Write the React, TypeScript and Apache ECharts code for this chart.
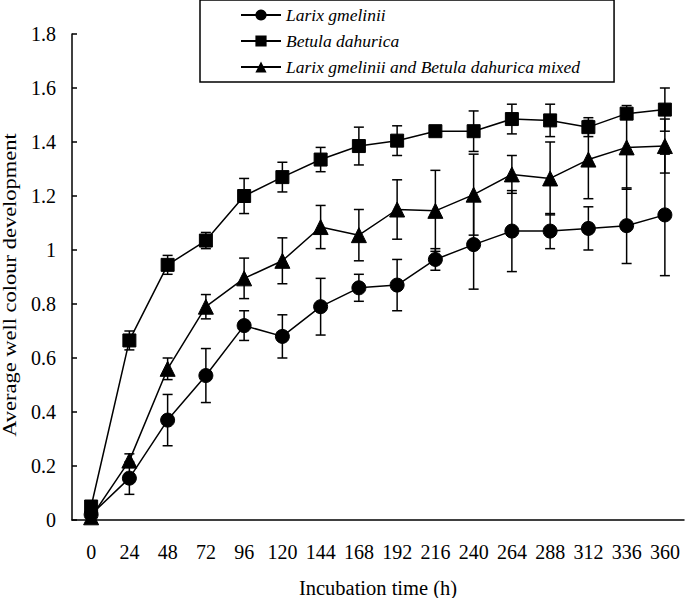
import React, { useEffect, useRef } from "react";
import * as echarts from "echarts";

const hours = ["0", "24", "48", "72", "96", "120", "144", "168", "192", "216", "240", "264", "288", "312", "336", "360"];
const larix = [0.02, 0.155, 0.37, 0.535, 0.72, 0.68, 0.79, 0.86, 0.87, 0.965, 1.02, 1.07, 1.07, 1.08, 1.09, 1.13];
const larixErr = [0.01, 0.06, 0.095, 0.1, 0.055, 0.08, 0.105, 0.05, 0.095, 0.04, 0.165, 0.15, 0.065, 0.08, 0.14, 0.225];
const betula = [0.05, 0.665, 0.945, 1.035, 1.2, 1.27, 1.335, 1.385, 1.405, 1.44, 1.44, 1.485, 1.48, 1.455, 1.505, 1.52];
const betulaErr = [0.01, 0.035, 0.035, 0.03, 0.065, 0.055, 0.045, 0.07, 0.055, 0.015, 0.075, 0.055, 0.06, 0.035, 0.015, 0.08];
const mixed = [0.01, 0.22, 0.56, 0.79, 0.895, 0.96, 1.085, 1.055, 1.15, 1.145, 1.205, 1.28, 1.265, 1.335, 1.38, 1.385];
const mixedErr = [0.005, 0.025, 0.04, 0.045, 0.075, 0.085, 0.08, 0.095, 0.11, 0.15, 0.15, 0.07, 0.135, 0.145, 0.155, 0.1];

const seriesNames = ["Larix gmelinii", "Betula dahurica", "Larix gmelinii and Betula dahurica mixed"];
const yTitle = "Average well colour development";
const xTitle = "Incubation time (h)";

const FONT = "Liberation Serif";

function errData(mean: number[], err: number[]) {
  return mean.map((m, i) => [i, m - err[i], m + err[i]]);
}

function errorSeries(mean: number[], err: number[]) {
  return {
    type: "custom",
    silent: true,
    z: 1,
    encode: { x: 0, y: [1, 2] },
    data: errData(mean, err),
    renderItem: (params: any, api: any) => {
      const idx = api.value(0);
      const lo = api.coord([idx, api.value(1)]);
      const hi = api.coord([idx, api.value(2)]);
      const w = 5;
      const style = { stroke: "#000", lineWidth: 1.5 };
      return {
        type: "group",
        children: [
          { type: "line", shape: { x1: lo[0], y1: lo[1], x2: hi[0], y2: hi[1] }, style },
          { type: "line", shape: { x1: lo[0] - w, y1: lo[1], x2: lo[0] + w, y2: lo[1] }, style },
          { type: "line", shape: { x1: hi[0] - w, y1: hi[1], x2: hi[0] + w, y2: hi[1] }, style },
        ],
      };
    },
  };
}

function lineSeries(name: string, data: number[], symbol: string, size: number) {
  return {
    type: "line",
    name,
    data,
    symbol,
    symbolSize: size,
    showAllSymbol: true,
    z: 3,
    lineStyle: { color: "#000", width: 1.5 },
    itemStyle: { color: "#000", borderColor: "#000" },
  };
}

export default function App() {
  const ref = useRef<HTMLDivElement>(null);
  useEffect(() => {
    if (!ref.current) return;
    const chart = echarts.init(ref.current, null, { renderer: "svg" });
    chart.setOption({
      animation: false,
      backgroundColor: "#fff",
      graphic: [
        {
          type: "text",
          x: 10,
          y: 285,
          rotation: Math.PI / 2,
          scaleX: 1.25,
          style: {
            text: yTitle,
            fontFamily: FONT,
            fontSize: 18,
            fill: "#000",
            align: "center",
            verticalAlign: "middle",
          },
        },
      ],
      legend: {
        data: seriesNames,
        orient: "vertical",
        left: 200,
        top: 0,
        padding: [6, 34, 6, 40],
        itemWidth: 40,
        itemHeight: 14,
        itemGap: 8,
        borderColor: "#000",
        borderWidth: 1.5,
        textStyle: { fontFamily: FONT, fontStyle: "italic", fontSize: 17.5, color: "#000" },
        selectedMode: false,
      },
      grid: { left: 72, right: 1, top: 34, bottom: 78, outerBoundsMode: "none", containLabel: false },
      xAxis: {
        type: "category",
        data: hours,
        boundaryGap: true,
        name: xTitle,
        nameLocation: "middle",
        nameGap: 57,
        nameTextStyle: { fontFamily: FONT, fontSize: 20.5, color: "#000" },
        axisLine: { lineStyle: { color: "#000", width: 1.5 } },
        axisTick: { inside: true, length: 5, lineStyle: { color: "#000", width: 1.5 } },
        axisLabel: { fontFamily: FONT, fontSize: 20, color: "#000", margin: 22, interval: 0 },
        splitLine: { show: false },
      },
      yAxis: {
        type: "value",
        min: 0,
        max: 1.8,
        interval: 0.2,
        axisLine: { show: true, lineStyle: { color: "#000", width: 1.5 } },
        axisTick: { show: true, inside: true, length: 5, lineStyle: { color: "#000", width: 1.5 } },
        axisLabel: { fontFamily: FONT, fontSize: 20, color: "#000", margin: 16 },
        splitLine: { show: false },
      },
      series: [
        errorSeries(larix, larixErr),
        errorSeries(betula, betulaErr),
        errorSeries(mixed, mixedErr),
        lineSeries(seriesNames[0], larix, "circle", 14),
        lineSeries(seriesNames[1], betula, "rect", 13),
        lineSeries(seriesNames[2], mixed, "triangle", 15),
      ],
    });
    return () => chart.dispose();
  }, []);
  return <div ref={ref} style={{ position: "fixed", left: 0, top: 0, width: 685, height: 598 }} />;
}
